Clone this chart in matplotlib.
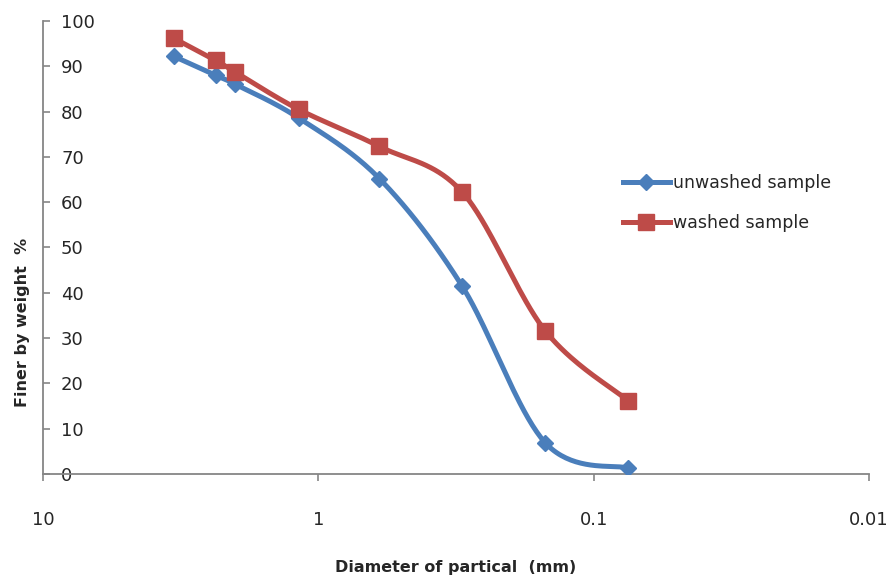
import numpy as np
import matplotlib
matplotlib.use("Agg")
import matplotlib.pyplot as plt

# sieve sizes (mm) and percent passing
sieve_mm = [3.35, 2.36, 2.0, 1.18, 0.6, 0.3, 0.15, 0.075]
unwashed = [92.2, 88.0, 86.0, 78.6, 65.2, 41.4, 6.9, 1.3]
washed = [96.2, 91.3, 88.7, 80.5, 72.3, 62.2, 31.6, 16.2]
series_names = ["unwashed sample", "washed sample"]
x_ticks = [10, 1, 0.1, 0.01]
x_tick_labels = ["10", "1", "0.1", "0.01"]
y_ticks = list(range(0, 101, 10))

BLUE = "#4A7EBB"
RED = "#BE4B48"
AXIS = "#868686"
TEXT = "#262626"


def smooth(ax, xs, ys, n=40):
    # excel style smoothed line: catmull-rom bezier in screen space
    p = ax.transData.transform(np.column_stack([xs, ys]))
    p = np.vstack([p[0], p, p[-1]])
    out = []
    t = np.linspace(0, 1, n)[:, None]
    for i in range(1, len(p) - 2):
        p0, p1, p2, p3 = p[i - 1], p[i], p[i + 1], p[i + 2]
        c1 = p1 + (p2 - p0) / 6.0
        c2 = p2 - (p3 - p1) / 6.0
        seg = ((1 - t) ** 3) * p1 + 3 * ((1 - t) ** 2) * t * c1 \
            + 3 * (1 - t) * t ** 2 * c2 + t ** 3 * p2
        out.append(seg)
    out = np.vstack(out)
    d = ax.transData.inverted().transform(out)
    return d[:, 0], d[:, 1]


fig = plt.figure(figsize=(8.94, 5.8), dpi=100)
ax = fig.add_axes([0.0481, 0.1828, 0.924, 0.781])
ax.set_xscale("log")
ax.set_xlim(10, 0.01)
ax.set_ylim(0, 100)

for vals, col, mk, ms, name in [(unwashed, BLUE, "D", 8, series_names[0]),
                                 (washed, RED, "s", 11, series_names[1])]:
    sx, sy = smooth(ax, sieve_mm, vals)
    ax.plot(sx, sy, color=col, lw=3.6, solid_capstyle="round", zorder=2)
    ax.plot(sieve_mm, vals, linestyle="none", marker=mk, ms=ms,
            color=col, zorder=3)
    # legend proxy
    ax.plot([], [], color=col, lw=3.6, marker=mk, ms=ms, label=name)

# spines: y axis line on the left, labels on the right of it
ax.spines["top"].set_visible(False)
ax.spines["left"].set_visible(False)
ax.spines["right"].set_position(("axes", 0))
ax.spines["right"].set_color(AXIS)
ax.spines["bottom"].set_color(AXIS)
ax.spines["right"].set_linewidth(1.3)
ax.spines["bottom"].set_linewidth(1.3)
ax.yaxis.tick_right()
ax.set_yticks(y_ticks)
ax.set_xticks(x_ticks)
ax.set_xticklabels(x_tick_labels)
ax.xaxis.set_minor_locator(matplotlib.ticker.NullLocator())
for lab in ax.get_yticklabels():
    lab.set_horizontalalignment("left")
ax.tick_params(axis="y", direction="out", length=5, width=1.2, color=AXIS,
               labelsize=13, labelcolor=TEXT, pad=8)
ax.tick_params(axis="x", direction="out", length=5, width=1.2, color=AXIS,
               labelsize=13, labelcolor=TEXT, pad=22)

ax.set_xlabel("Diameter of partical  (mm)", fontsize=11.5, fontweight="bold",
              color=TEXT)
ax.xaxis.set_label_coords(0.5, -0.19)
ax.set_ylabel("Finer by weight  %", fontsize=11.5, fontweight="bold",
              color=TEXT)
ax.yaxis.set_label_position("left")
ax.yaxis.set_label_coords(-0.016, 0.335)

ax.legend(loc="center left", bbox_to_anchor=(0.683, 0.598), frameon=False,
          fontsize=12.5, handlelength=2.7, handletextpad=0.2,
          labelspacing=1.3, labelcolor=TEXT)

fig.savefig("out.png", dpi=100, facecolor="white")
